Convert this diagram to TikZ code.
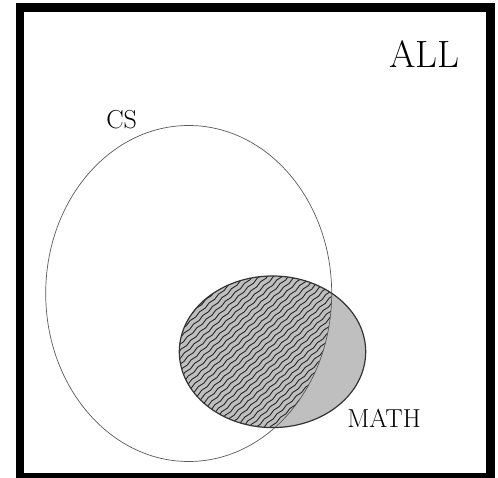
\documentclass[tikz,border=0pt]{standalone}
\usetikzlibrary{calc,decorations.pathmorphing}

\tikzset{
  setlabel/.style={inner sep=0pt,font=\fontsize{26}{30}\selectfont},
  hatchline/.style={line width=0.9pt,black!85,decorate,
    decoration={snake,amplitude=0.6pt,segment length=13pt}}
}

\begin{document}
\begin{tikzpicture}[x=1pt,y=1pt]

\useasboundingbox (0,0) rectangle (498,477);

\coordinate (cs) at (188.7,183.5);
\coordinate (math) at (272.5,125.2);

% universe
\draw[line width=8.5pt] (20,-0.5) rectangle (490.5,469.5);

% MATH set, grey
\fill[gray!50] (math) ellipse [x radius=93.2,y radius=75.8];

% CS and MATH, hatched
\begin{scope}
  \clip (math) ellipse [x radius=93.2,y radius=75.8];
  \clip (cs) ellipse [x radius=143,y radius=168];
  \begin{scope}[shift={(math)},rotate=43]
    \foreach \k in {-30,...,30}
      \draw[hatchline] (-160,\k*4.9) -- (160,\k*4.9);
  \end{scope}
\end{scope}

\draw[line width=0.7pt,black!65] (cs) ellipse [x radius=143,y radius=168];
\draw[line width=1.2pt,black!80] (math) ellipse [x radius=93.2,y radius=75.8];

\node[setlabel] (cslabel) at (121.7,357) {CS};
\node[setlabel] (mathlabel) at (384,59) {MATH};
\node[inner sep=0pt,font=\fontsize{38}{44}\selectfont] (all) at (424.5,423) {ALL};

\end{tikzpicture}
\end{document}
